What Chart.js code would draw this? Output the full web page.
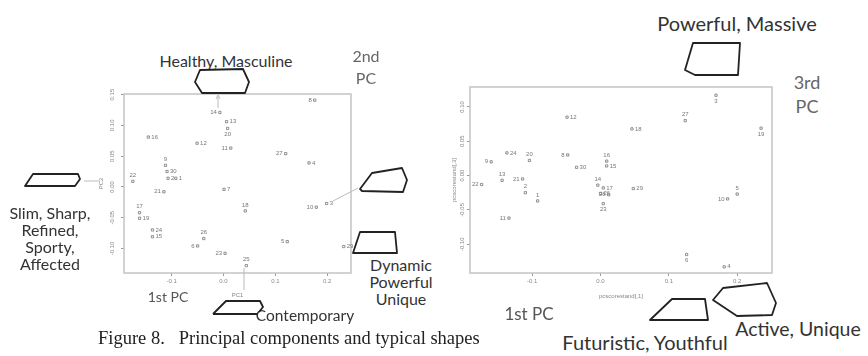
<!DOCTYPE html>
<html>
<head>
<meta charset="utf-8">
<script src="https://cdn.jsdelivr.net/npm/chart.js@4.4.1/dist/chart.umd.min.js"></script>
<style>
body { margin: 0; width: 868px; height: 356px; background: #fff; position: relative; overflow: hidden; font-family: Lato, "Open Sans", sans-serif; }
.box { position: absolute; }
.t { position: absolute; white-space: nowrap; transform: translate(-50%, -50%); color: #333; font-size: 16px; }
.m { position: absolute; transform: translateX(-50%); text-align: center; color: #333; font-size: 16px; line-height: 17px; white-space: nowrap; }
.pc { color: #666; }
.cap { position: absolute; left: 98px; top: 338px; transform: translateY(-50%); font-family: "Liberation Serif", serif; font-size: 18.5px; color: #222; white-space: pre; }
svg { position: absolute; left: 0; top: 0; pointer-events: none; }
</style>
</head>
<body>
<div class="box" style="left:80px;top:85px;width:280px;height:220px"><canvas id="pc12"></canvas></div>
<div class="box" style="left:446px;top:78px;width:334px;height:230px"><canvas id="pc13"></canvas></div>

<div class="t" style="left:226px;top:60px">Healthy, Masculine</div>
<div class="m pc" style="left:366px;top:45px;line-height:22px">2nd<br>PC</div>
<div class="m" style="left:50px;top:204px">Slim, Sharp,<br>Refined,<br>Sporty,<br>Affected</div>
<div class="m" style="left:401px;top:256px">Dynamic<br>Powerful<br>Unique</div>
<div class="t" style="left:168px;top:296px;color:#555;font-size:14px">1st PC</div>
<div class="t" style="left:305px;top:315px;font-size:15.5px">Contemporary</div>
<div class="t" style="left:737px;top:23px;font-size:20px">Powerful, Massive</div>
<div class="m pc" style="left:807px;top:70px;font-size:18px;line-height:24px">3rd<br>PC</div>
<div class="t" style="left:529px;top:313px;color:#555;font-size:17px">1st PC</div>
<div class="t" style="left:645px;top:342px;font-size:20px">Futuristic, Youthful</div>
<div class="t" style="left:798px;top:328px;font-size:19.5px">Active, Unique</div>
<div class="cap">Figure 8.   Principal components and typical shapes</div>

<svg width="868" height="356">
  <g fill="none" stroke="#bbb" stroke-width="1">
    <path d="M218 108 V96 M216 99 L218 95 L220 99"/>
    <path d="M84 181 H99"/>
    <path d="M333 201 L358 188"/>
    <path d="M244 268 V290"/>
  </g>
  <g fill="none" stroke="#222" stroke-width="1.8" stroke-linejoin="round">
    <path d="M200 70 L243 69 L249 82 L245 93 L202 93 L195 82 Z"/>
    <path d="M25 186 L33 174 L78 174 L80 179 L75 186 Z"/>
    <path d="M360 189 L372 173 L402 168 L407 180 L403 192 L362 191 Z"/>
    <path d="M353 253 L360 232 L395 232 L397 253 Z"/>
    <path d="M213 314 L226 301 L260 301 L263 307 L259 312 M213 314 H257"/>
    <path d="M685 70 L693 43 L740 43 L738 75 L695 75 Z"/>
    <path d="M650 320 L672 299 L705 299 L708 320 Z"/>
    <path d="M713 300 L723 288 L767 283 L776 303 L772 315 L737 316 Z"/>
  </g>
</svg>

<script>
// 1st PC vs 2nd PC
const pc12Ids = ['14','13','20','8','16','12','11','27','4','22','9','30','2','1','21','7','18','10','3','17','19','24','15','26','6','5','29','23','25'];
const pc12X = [-0.007, 0.006, 0.008, 0.176, -0.145, -0.051, 0.014, 0.120, 0.165, -0.175, -0.112, -0.109, -0.107, -0.092, -0.115, 0.001, 0.042, 0.179, 0.199, -0.162, -0.162, -0.137, -0.137, -0.038, -0.050, 0.123, 0.232, 0.003, 0.044];
const pc12Y = [0.121, 0.106, 0.095, 0.141, 0.081, 0.071, 0.063, 0.054, 0.039, 0.009, 0.035, 0.025, 0.014, 0.014, -0.008, -0.004, -0.039, -0.033, -0.027, -0.042, -0.051, -0.070, -0.081, -0.084, -0.096, -0.089, -0.097, -0.108, -0.128];
const pc12XTicks = [-0.1, 0.0, 0.1, 0.2];
const pc12YTicks = [-0.10, -0.05, 0.00, 0.05, 0.10, 0.15];

// 1st PC vs 3rd PC
const pc13Ids = ['3','27','12','18','19','24','20','9','8','30','16','15','13','21','2','1','22','11','14','17','26','28','23','29','5','10','6','4'];
const pc13X = [0.169, 0.124, -0.049, 0.046, 0.235, -0.137, -0.104, -0.160, -0.048, -0.035, 0.009, 0.009, -0.144, -0.114, -0.110, -0.092, -0.174, -0.134, -0.004, 0.004, 0.000, 0.012, 0.004, 0.048, 0.200, 0.186, 0.126, 0.181];
const pc13Y = [0.117, 0.080, 0.085, 0.068, 0.069, 0.033, 0.022, 0.020, 0.030, 0.012, 0.021, 0.014, -0.007, -0.005, -0.025, -0.037, -0.013, -0.062, -0.014, -0.018, -0.026, -0.028, -0.041, -0.019, -0.027, -0.034, -0.115, -0.133];
const pc13XTicks = [-0.1, 0.0, 0.1, 0.2];
const pc13YTicks = [-0.10, -0.05, 0.00, 0.05, 0.10];

const gray = '#888';
const tickFont = { family: 'Liberation Sans', size: 6 };

// which side of the point the number goes (r = right by default)
const side12 = { '14':'l','20':'b','8':'l','11':'l','27':'l','22':'a','21':'l','18':'a','10':'l','17':'a','26':'a','6':'l','5':'l','23':'l','25':'a','9':'a' };
const side13 = { '3':'b','27':'a','19':'b','20':'a','9':'l','8':'l','16':'a','13':'a','21':'l','2':'a','1':'a','22':'l','11':'l','14':'a','28':'l','23':'b','5':'a','10':'l','6':'b' };

const pointNumbers = {
    id: 'pointNumbers',
    afterDatasetsDraw(chart, args, opts) {
        const ctx = chart.ctx;
        const ids = chart.data.datasets[0].ids;
        ctx.save();
        ctx.fillStyle = '#777';
        ctx.font = '6px "Liberation Sans"';
        chart.getDatasetMeta(0).data.forEach((pt, i) => {
            const s = opts.side[ids[i]] || 'r';
            let x = pt.x, y = pt.y;
            ctx.textBaseline = 'middle';
            ctx.textAlign = 'center';
            if (s === 'r') { ctx.textAlign = 'left'; x += 3; }
            if (s === 'l') { ctx.textAlign = 'right'; x -= 3; }
            if (s === 'a') { y -= 6; }
            if (s === 'b') { y += 6; }
            ctx.fillText(ids[i], x, y);
        });
        ctx.restore();
    }
};

// R style vertical tick labels on the y axis
const yLabels = {
    id: 'yLabels',
    afterDraw(chart, args, opts) {
        const ctx = chart.ctx;
        const sc = chart.scales.y;
        const x = chart.chartArea.left - opts.gap;
        ctx.save();
        ctx.fillStyle = gray;
        ctx.font = '6px "Liberation Sans"';
        ctx.textAlign = 'center';
        ctx.textBaseline = 'middle';
        sc.ticks.forEach(t => {
            ctx.save();
            ctx.translate(x, sc.getPixelForValue(t.value));
            ctx.rotate(-Math.PI / 2);
            ctx.fillText(t.value.toFixed(2), 0, 0);
            ctx.restore();
        });
        ctx.restore();
    }
};

const frame = {
    id: 'frame',
    beforeDatasetsDraw(chart) {
        const { left, top, right, bottom } = chart.chartArea;
        const ctx = chart.ctx;
        ctx.save();
        ctx.strokeStyle = '#c4c4c4';
        ctx.lineWidth = 1.5;
        ctx.strokeRect(left, top, right - left, bottom - top);
        ctx.restore();
    }
};

function makeScatter(id, xs, ys, ids, xTicks, yTicks, ranges, axisTitles, sizes, side) {
    const points = xs.map((x, i) => ({ x: x, y: ys[i] }));
    return new Chart(document.getElementById(id), {
        type: 'scatter',
        data: {
            datasets: [{
                data: points,
                ids: ids,
                pointStyle: 'rect',
                pointRadius: 1.6,
                borderWidth: 0.8,
                borderColor: '#777',
                backgroundColor: '#fff'
            }]
        },
        options: {
            responsive: true,
            maintainAspectRatio: false,
            animation: false,
            events: [],
            layout: { padding: sizes.padding },
            plugins: {
                legend: { display: false },
                tooltip: { enabled: false },
                pointNumbers: { side: side },
                yLabels: { gap: sizes.ygap }
            },
            scales: {
                x: {
                    type: 'linear',
                    min: ranges.x[0], max: ranges.x[1],
                    afterBuildTicks: s => { s.ticks = xTicks.map(v => ({ value: v })); },
                    afterFit: s => { s.height = sizes.xh; },
                    border: { display: false },
                    grid: { drawOnChartArea: false, drawTicks: true, tickLength: 3, color: '#999' },
                    ticks: { font: tickFont, color: gray, padding: 2, maxRotation: 0, callback: v => v.toFixed(1) },
                    title: { display: true, text: axisTitles[0], font: tickFont, color: gray, padding: { top: 0, bottom: sizes.xtb } }
                },
                y: {
                    type: 'linear',
                    min: ranges.y[0], max: ranges.y[1],
                    afterBuildTicks: s => { s.ticks = yTicks.map(v => ({ value: v })); },
                    afterFit: s => { s.width = sizes.yw; },
                    border: { display: false },
                    grid: { drawOnChartArea: false, drawTicks: true, tickLength: 3, color: '#999' },
                    ticks: { display: false },
                    title: { display: true, text: axisTitles[1], font: tickFont, color: gray, padding: { top: sizes.ytt, bottom: 0 } }
                }
            }
        },
        plugins: [frame, pointNumbers, yLabels]
    });
}

makeScatter('pc12', pc12X, pc12Y, pc12Ids, pc12XTicks, pc12YTicks,
    { x: [-0.192, 0.246], y: [-0.140, 0.151] }, ['PC1', 'PC2'],
    { padding: { top: 9, right: 9, left: 0, bottom: 0 }, xh: 32, yw: 44, ygap: 12, xtb: 6, ytt: 18 }, side12);

makeScatter('pc13', pc13X, pc13Y, pc13Ids, pc13XTicks, pc13YTicks,
    { x: [-0.191, 0.251], y: [-0.142, 0.129] }, ['pcscorestand[,1]', 'pcscorestand[,3]'],
    { padding: { top: 9, right: 8, left: 0, bottom: 0 }, xh: 35, yw: 24, ygap: 8, xtb: 8, ytt: 5 }, side13);
</script>
</body>
</html>
